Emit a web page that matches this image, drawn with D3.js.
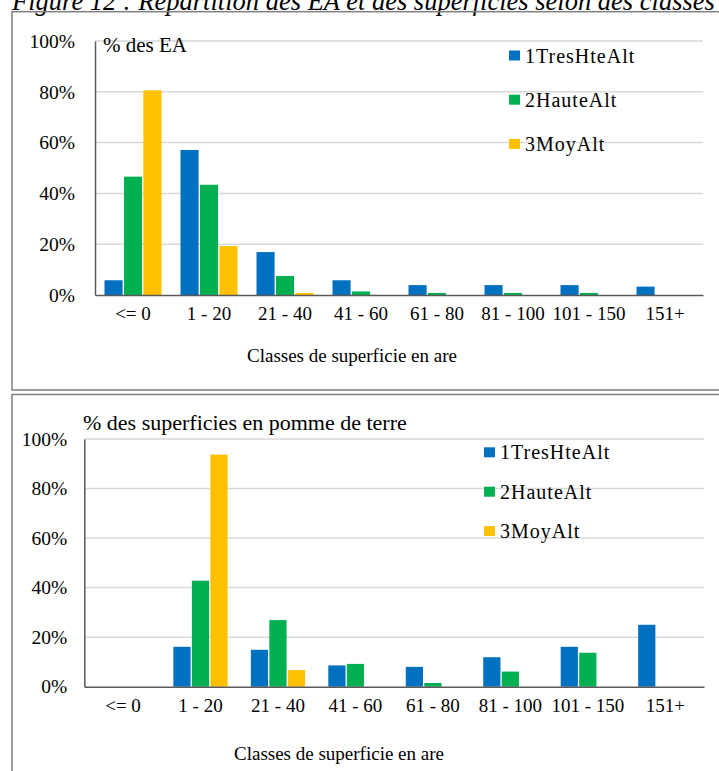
<!DOCTYPE html>
<html>
<head>
<meta charset="utf-8">
<script src="https://cdn.jsdelivr.net/npm/d3@7"></script>
<style>
  html, body { margin: 0; padding: 0; background: #fff; overflow: hidden; }
  svg { display: block; }
  text { font-family: "Liberation Serif", "Times New Roman", serif; fill: #000; }
</style>
</head>
<body>
<svg id="chart" width="719" height="771"></svg>
<script>
// ---------- DATA ----------
const categories = ["<= 0", "1 - 20", "21 - 40", "41 - 60", "61 - 80", "81 - 100", "101 - 150", "151+"];
const seriesNames = ["1TresHteAlt", "2HauteAlt", "3MoyAlt"];
const seriesColors = ["#0070C0", "#00B050", "#FFC000"];
const yTicks = [0, 20, 40, 60, 80, 100];

// % des EA
const eaTresHte = [5.8, 57.1, 16.9, 5.8, 3.9, 3.9, 3.9, 3.3];
const eaHaute   = [46.6, 43.4, 7.5, 1.4, 0.8, 0.8, 0.8, 0];
const eaMoy     = [80.6, 19.3, 0.8, 0, 0, 0, 0, 0];

// % des superficies en pomme de terre
const supTresHte = [0, 16.1, 14.9, 8.6, 8.0, 11.9, 16.1, 25.0];
const supHaute   = [0, 42.8, 26.9, 9.2, 1.5, 6.1, 13.7, 0];
const supMoy     = [0, 93.7, 6.7, 0, 0, 0, 0, 0];

const titleText = "Figure 12 : Répartition des EA et des superficies selon des classes";
const xTitle = "Classes de superficie en are";

// ---------- DRAW ----------
const svg = d3.select("#chart");

// figure caption (partially cut at top, as in the source)
svg.append("text")
  .attr("x", 12).attr("y", 10)
  .attr("font-size", 26.5).attr("font-style", "italic")
  .text(titleText);

function drawPanel(cfg, values, subtitle) {
  const g = svg.append("g");
  // frame
  g.append("rect")
    .attr("x", cfg.frame[0]).attr("y", cfg.frame[1])
    .attr("width", cfg.frame[2]).attr("height", cfg.frame[3])
    .attr("fill", "none").attr("stroke", "#7f7f7f").attr("stroke-width", 1.5);

  const y = d3.scaleLinear().domain([0, 100]).range([cfg.y0, cfg.y100]);
  const x0 = d3.scaleBand().domain(categories).range([cfg.xl, cfg.xr])
    .paddingInner(cfg.padIn).paddingOuter(cfg.padOut);
  const x1 = d3.scaleBand().domain(seriesNames).range([0, x0.bandwidth()]).paddingInner(0.07);

  // gridlines
  g.append("g").selectAll("line").data(yTicks.filter(d => d > 0)).join("line")
    .attr("x1", cfg.xl).attr("x2", cfg.xr)
    .attr("y1", d => y(d)).attr("y2", d => y(d))
    .attr("stroke", "#d9d9d9").attr("stroke-width", 1.5);

  // y axis
  const yAxis = d3.axisLeft(y).tickValues(yTicks).tickFormat(d => d + "%").tickSize(0).tickPadding(cfg.yLabPad);
  const ya = g.append("g").attr("transform", `translate(${cfg.xl},0)`).call(yAxis);
  ya.select(".domain").attr("stroke", "#595959").attr("stroke-width", 1.5);
  ya.selectAll("text").attr("font-size", 19.5).attr("font-family", "Liberation Serif").attr("fill", "#000");

  // bars
  const gs = g.append("g").selectAll("g").data(categories).join("g")
    .attr("transform", d => `translate(${x0(d)},0)`);
  gs.selectAll("rect")
    .data((c, i) => seriesNames.map((s, k) => ({ s, k, v: values[k][i] })).filter(d => d.v > 0))
    .join("rect")
    .attr("x", d => x1(d.s)).attr("width", x1.bandwidth())
    .attr("y", d => y(d.v)).attr("height", d => y(0) - y(d.v))
    .attr("fill", d => seriesColors[d.k]);

  // x axis
  const xAxis = d3.axisBottom(x0).tickSize(0).tickPadding(cfg.xLabPad);
  const xa = g.append("g").attr("transform", `translate(0,${cfg.y0})`).call(xAxis);
  xa.select(".domain").attr("stroke", "#595959").attr("stroke-width", 1.5);
  xa.selectAll("text").attr("font-size", 19).attr("font-family", "Liberation Serif").attr("fill", "#000");

  // subtitle
  g.append("text").attr("x", cfg.subX).attr("y", cfg.subY)
    .attr("font-size", cfg.subSize).text(subtitle);

  // legend
  const lg = g.append("g").selectAll("g").data(seriesNames).join("g")
    .attr("transform", (d, i) => `translate(${cfg.legX},${cfg.legY + i * cfg.legStep})`);
  lg.append("rect").attr("x", 0).attr("y", -5).attr("width", 11).attr("height", 10)
    .attr("fill", (d, i) => seriesColors[i]);
  lg.append("text").attr("x", 16).attr("y", 0).attr("dy", "0.35em")
    .attr("font-size", 20).attr("letter-spacing", 1).text(d => d);

  // x title
  g.append("text").attr("x", cfg.xtX).attr("y", cfg.xtY)
    .attr("text-anchor", "middle").attr("font-size", 19).text(xTitle);
}

drawPanel({
  frame: [12, 11.7, 720, 378.3],
  xl: 95, xr: 703, y0: 295, y100: 41,
  padIn: 0.25, padOut: 0.125,
  yLabPad: 20, xLabPad: 12,
  subX: 103, subY: 52, subSize: 21,
  legX: 509, legY: 55.5, legStep: 44.2,
  xtX: 352, xtY: 362
}, [eaTresHte, eaHaute, eaMoy], "% des EA");

drawPanel({
  frame: [12, 394.5, 720, 400],
  xl: 84.3, xr: 704, y0: 686.7, y100: 439,
  padIn: 0.3, padOut: 0.15,
  yLabPad: 17, xLabPad: 12,
  subX: 83, subY: 430, subSize: 22,
  legX: 484, legY: 452.3, legStep: 39.4,
  xtX: 339, xtY: 760
}, [supTresHte, supHaute, supMoy], "% des superficies en pomme de terre");
</script>
</body>
</html>
